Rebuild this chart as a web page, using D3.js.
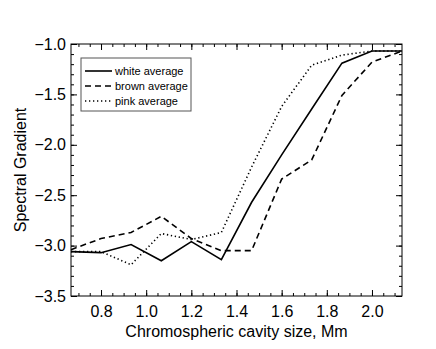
<!DOCTYPE html>
<html>
<head>
<meta charset="utf-8">
<script src="https://cdn.jsdelivr.net/npm/d3@7"></script>
<style>
  body { margin: 0; background: #fff; }
  text { font-family: "Liberation Sans", Arial, sans-serif; fill: #000; }
</style>
</head>
<body>
<div id="chart"></div>
<script>
// Data
const cavity_size = [0.667, 0.8, 0.933, 1.067, 1.2, 1.333, 1.467, 1.6, 1.733, 1.867, 2.0, 2.133];
const white_avg = [-3.06, -3.07, -2.99, -3.15, -2.96, -3.14, -2.57, -2.10, -1.645, -1.19, -1.07, -1.07];
const brown_avg = [-3.04, -2.93, -2.87, -2.71, -2.93, -3.05, -3.05, -2.34, -2.15, -1.51, -1.18, -1.07];
const pink_avg = [-3.06, -3.06, -3.19, -2.88, -2.94, -2.87, -2.22, -1.62, -1.21, -1.11, -1.07, -1.07];
const series_names = ['white average', 'brown average', 'pink average'];
const x_ticks = [0.8, 1.0, 1.2, 1.4, 1.6, 1.8, 2.0];
const y_ticks = [-1.0, -1.5, -2.0, -2.5, -3.0, -3.5];

const width = 436, height = 349;
const margin = {top: 44, right: 34, bottom: 53, left: 71};

const svg = d3.select('#chart').append('svg')
    .attr('width', width)
    .attr('height', height);

const x = d3.scaleLinear()
    .domain([0.667, 2.133])
    .range([margin.left, width - margin.right]);

const y = d3.scaleLinear()
    .domain([-3.5, -1.0])
    .range([height - margin.bottom, margin.top]);

const fmt = d => d3.format('.1f')(d).replace('-', '\u2212');

// minor ticks
const x_minor = d3.range(0.7, 2.14, 0.05).filter(v => v >= 0.667 && v <= 2.133);
const y_minor = d3.range(-3.5, -0.99, 0.1);

const axes = [
    {axis: d3.axisBottom(x), tr: [0, height - margin.bottom]},
    {axis: d3.axisTop(x), tr: [0, margin.top]},
    {axis: d3.axisLeft(y), tr: [margin.left, 0]},
    {axis: d3.axisRight(y), tr: [width - margin.right, 0]}
];

axes.forEach((a, i) => {
    const isX = i < 2;
    const minor = isX ? x_minor : y_minor;
    const major = isX ? x_ticks : y_ticks;
    const showLabels = (i === 0 || i === 2);
    // minor
    svg.append('g')
        .attr('transform', 'translate(' + a.tr + ')')
        .call(a.axis.tickValues(minor).tickSize(-3).tickFormat(''))
        .call(g => g.select('.domain').remove())
        .selectAll('line').attr('stroke', '#000').attr('stroke-width', 1);
    // major
    const g = svg.append('g')
        .attr('transform', 'translate(' + a.tr + ')')
        .call(a.axis.tickValues(major).tickSize(-6).tickPadding(isX ? 10 : 5)
            .tickFormat(showLabels ? fmt : ''));
    g.select('.domain').remove();
    g.selectAll('line').attr('stroke', '#000').attr('stroke-width', 1);
    g.selectAll('text').style('font-size', '16px')
        .style('font-family', '"Liberation Sans", Arial, sans-serif');
});

// frame
svg.append('rect')
    .attr('x', margin.left)
    .attr('y', margin.top)
    .attr('width', width - margin.left - margin.right)
    .attr('height', height - margin.top - margin.bottom)
    .attr('fill', 'none')
    .attr('stroke', '#000')
    .attr('stroke-width', 1);

// lines
const series = [
    {name: series_names[0], values: white_avg, dash: null},
    {name: series_names[1], values: brown_avg, dash: '6,4'},
    {name: series_names[2], values: pink_avg, dash: '1.3,2.7'}
];

const line = d3.line()
    .x((d, i) => x(cavity_size[i]))
    .y(d => y(d));

svg.append('g')
    .selectAll('path')
    .data(series)
    .join('path')
    .attr('d', d => line(d.values))
    .attr('fill', 'none')
    .attr('stroke', '#000')
    .attr('stroke-width', 1.6)
    .attr('stroke-dasharray', d => d.dash);

// legend
const legend = svg.append('g').attr('transform', 'translate(81,58)');
legend.append('rect')
    .attr('width', 110)
    .attr('height', 53)
    .attr('fill', '#fff')
    .attr('stroke', '#555')
    .attr('stroke-width', 1);

legend.selectAll('line')
    .data(series)
    .join('line')
    .attr('x1', 4)
    .attr('x2', 31)
    .attr('y1', (d, i) => 13 + 15 * i)
    .attr('y2', (d, i) => 13 + 15 * i)
    .attr('stroke', '#000')
    .attr('stroke-width', 1.6)
    .attr('stroke-dasharray', d => d.dash);

legend.selectAll('text')
    .data(series)
    .join('text')
    .attr('x', 34)
    .attr('y', (d, i) => 17 + 15 * i)
    .style('font-size', '11px')
    .text(d => d.name);

// axis titles
svg.append('text')
    .attr('x', x(1.4))
    .attr('y', 337)
    .attr('text-anchor', 'middle')
    .style('font-size', '16px')
    .text('Chromospheric cavity size, Mm');

svg.append('text')
    .attr('transform', 'translate(26,' + y(-2.25) + ') rotate(-90)')
    .attr('text-anchor', 'middle')
    .style('font-size', '16px')
    .text('Spectral Gradient');
</script>
</body>
</html>
